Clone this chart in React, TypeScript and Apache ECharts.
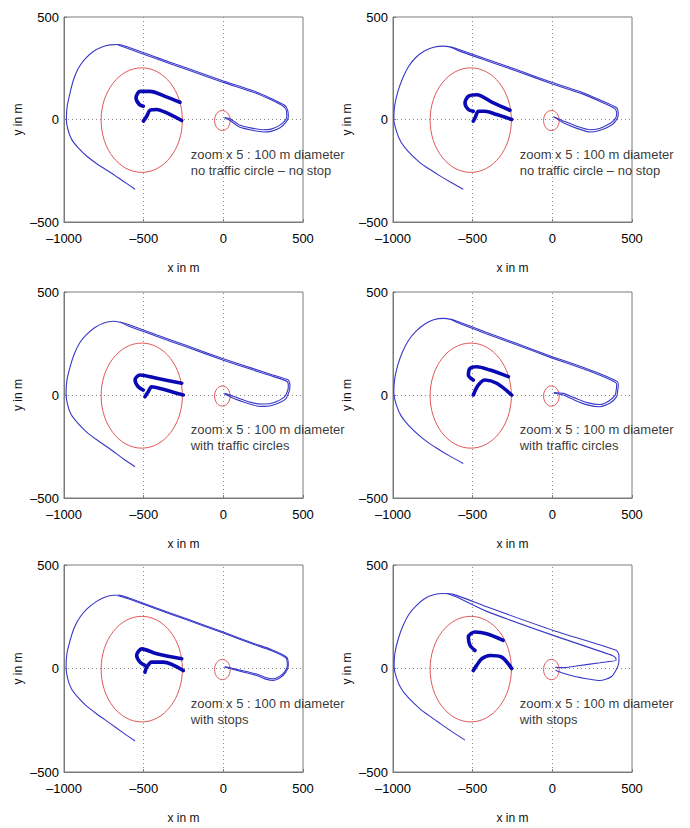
import React, { useEffect, useRef } from "react";
import * as echarts from "echarts";

// ---------- data ----------
const X_TICKS = [-1000, -500, 0, 500];
const Y_TICKS = [-500, 0, 500];
const GRID_X = [-500, 0];
const GRID_Y = [0];
const X_LABEL = "x in m";
const Y_LABEL = "y in m";
const NOTE_LINE1 = "zoom x 5 : 100 m diameter";
const NOTE_LINE2 = [
  "no traffic circle – no stop",
  "no traffic circle – no stop",
  "with traffic circles",
  "with traffic circles",
  "with stops",
  "with stops",
];
const NOTE_POS = [-205, -208];

// circles: [cx, cy, r] (the zoom circle is the traffic circle x 5)
const SMALL_CIRCLE = [-6, -5, 49];
const BIG_CIRCLE = [-512, -3, 255];

// panel 1
const outer1A = [[-554,-340],[-630,-300],[-711,-257],[-790,-218],[-858,-178],[-912,-137],[-952,-97],[-975,-50],[-985,0],[-980,65],[-962,130],[-940,195],[-910,250],[-866,297],[-816,332],[-762,354],[-711,364],[-660,366],[-607,356],[-420,303],[-230,251],[0,188],[188,140],[300,103],[387,68],[405,42],[408,12],[392,-14],[356,-40],[300,-58],[251,-61],[180,-52],[105,-38],[42,-5],[8,8]];
const outer1B = [[-660,364],[-607,349],[-420,296],[-230,244],[0,181],[188,133],[300,96],[380,62],[397,40],[398,14],[384,-8],[350,-30],[300,-47],[251,-50],[180,-42],[105,-28],[42,4],[8,10]];
const inner1Top = [[-272,84],[-366,113],[-460,137],[-523,137],[-548,105],[-527,73],[-502,65]];
const inner1Bottom = [[-261,-5],[-355,32],[-418,49],[-460,45],[-481,16],[-502,-8]];

// panel 2
const outer2A = [[-559,-340],[-640,-305],[-705,-275],[-770,-243],[-831,-210],[-905,-155],[-950,-110],[-977,-60],[-995,0],[-990,65],[-970,135],[-940,200],[-905,255],[-860,300],[-806,333],[-745,352],[-684,358],[-630,352],[-590,343],[-420,296],[-230,245],[0,180],[188,132],[300,95],[404,57],[414,30],[408,5],[380,-22],[341,-40],[290,-55],[236,-61],[150,-42],[69,-16],[6,14]];
const outer2B = [[-640,355],[-590,336],[-420,289],[-230,238],[0,173],[188,125],[300,88],[394,52],[404,30],[398,8],[372,-14],[335,-30],[290,-45],[236,-50],[150,-32],[69,-7],[10,12]];
const inner2Top = [[-266,45],[-370,81],[-475,121],[-527,113],[-548,81],[-527,49],[-496,40]];
const inner2Bottom = [[-255,0],[-349,24],[-423,40],[-464,40],[-485,8],[-496,-8]];

// panel 3
const outer3A = [[-554,-348],[-630,-308],[-711,-262],[-790,-220],[-858,-180],[-912,-138],[-955,-95],[-978,-45],[-987,5],[-982,70],[-962,135],[-935,200],[-900,255],[-856,295],[-806,328],[-750,350],[-690,358],[-640,352],[-600,343],[-420,292],[-230,240],[0,176],[188,128],[300,100],[408,73],[418,45],[414,20],[390,-20],[314,-49],[260,-55],[209,-53],[130,-35],[63,-16],[6,6]];
const outer3B = [[-650,355],[-600,336],[-420,285],[-230,233],[0,169],[188,121],[300,93],[400,66],[408,44],[404,22],[382,-10],[314,-38],[260,-44],[209,-42],[130,-25],[63,-6],[8,8]];
const inner3Top = [[-261,57],[-418,81],[-523,97],[-554,73],[-534,40],[-502,24]];
const inner3Bottom = [[-251,0],[-397,32],[-450,40],[-471,16],[-492,-8]];

// panel 4
const outer4A = [[-559,-332],[-640,-298],[-705,-268],[-770,-236],[-831,-200],[-905,-145],[-950,-100],[-978,-50],[-995,10],[-990,75],[-970,145],[-940,210],[-900,268],[-852,312],[-800,345],[-745,365],[-684,372],[-630,366],[-590,356],[-420,306],[-230,252],[0,186],[188,136],[300,103],[408,65],[414,49],[410,20],[404,-8],[360,-40],[299,-57],[220,-48],[140,-25],[69,0],[8,10]];
const outer4B = [[-640,369],[-590,349],[-420,299],[-230,245],[0,179],[188,129],[300,96],[398,60],[404,46],[400,20],[394,-2],[352,-30],[299,-46],[220,-37],[140,-14],[69,8],[10,12]];
const inner4Top = [[-276,89],[-391,121],[-475,137],[-517,129],[-527,97],[-496,73]];
const inner4Bottom = [[-255,0],[-349,57],[-423,73],[-464,49],[-496,0]];

// panel 5
const outer5A = [[-554,-350],[-630,-310],[-711,-265],[-790,-222],[-858,-182],[-912,-140],[-955,-95],[-978,-45],[-987,5],[-982,70],[-962,135],[-935,198],[-898,250],[-852,290],[-800,322],[-745,344],[-690,354],[-649,354],[-600,343],[-420,292],[-230,240],[0,176],[188,122],[300,92],[398,55],[408,15],[390,-20],[356,-45],[314,-58],[260,-50],[209,-34],[130,-18],[42,0],[8,6]];
const outer5B = [[-660,352],[-600,338],[-420,287],[-230,235],[0,171],[188,117],[300,87],[392,52],[402,15],[385,-16],[352,-38],[314,-50],[260,-42],[209,-27],[130,-12],[42,4],[8,8]];
const inner5Top = [[-261,47],[-418,71],[-512,95],[-544,63],[-523,31],[-492,15]];
const inner5Bottom = [[-251,-10],[-377,31],[-450,31],[-481,6],[-492,-18]];

// panel 6
const outer6A = [[-548,-346],[-630,-305],[-705,-265],[-770,-230],[-831,-195],[-905,-140],[-950,-95],[-978,-45],[-993,10],[-988,75],[-968,140],[-938,205],[-900,262],[-852,305],[-800,338],[-745,356],[-684,362],[-620,358],[-412,298],[6,184],[400,88],[418,66],[418,35],[408,5],[370,-40],[299,-58],[150,-40],[69,-23],[20,-8]];
const outer6B = [[-660,362],[-600,345],[-412,276],[6,160],[380,62],[398,50],[400,40],[300,28],[150,12],[69,4],[17,6]];
const inner6Top = [[-308,136],[-412,168],[-485,176],[-527,152],[-517,112],[-485,87]];
const inner6Bottom = [[-255,0],[-318,55],[-391,63],[-443,47],[-475,15],[-496,-10]];

const OUTER_A = [outer1A, outer2A, outer3A, outer4A, outer5A, outer6A];
const OUTER_B = [outer1B, outer2B, outer3B, outer4B, outer5B, outer6B];
const INNER_TOP = [inner1Top, inner2Top, inner3Top, inner4Top, inner5Top, inner6Top];
const INNER_BOTTOM = [inner1Bottom, inner2Bottom, inner3Bottom, inner4Bottom, inner5Bottom, inner6Bottom];

// ---------- layout ----------
const GRIDS = [
  { left: 64, top: 17, width: 239, height: 205 },
  { left: 393, top: 17, width: 239, height: 205 },
  { left: 64, top: 292, width: 239, height: 206 },
  { left: 393, top: 292, width: 239, height: 206 },
  { left: 64, top: 565, width: 239, height: 207 },
  { left: 393, top: 565, width: 239, height: 207 },
];

const FONT = '"Liberation Sans", Arial, Helvetica, sans-serif';
const THIN_BLUE = "#3838c8";
const THICK_BLUE = "#0a0ab4";
const RED = "#e05858";
const FRAME = "#7a7a7a";

const fmt = (v: number) => (v < 0 ? "\u2013" + Math.abs(v) : String(v));

function buildOption() {
  const grid: any[] = [];
  const xAxis: any[] = [];
  const yAxis: any[] = [];
  const series: any[] = [];
  GRIDS.forEach((g, i) => {
    grid.push({ ...g, show: true, borderColor: FRAME, borderWidth: 1, backgroundColor: "#fff" });
    xAxis.push({
      type: "value",
      gridIndex: i,
      min: X_TICKS[0],
      max: X_TICKS[X_TICKS.length - 1],
      interval: 500,
      name: X_LABEL,
      nameLocation: "middle",
      nameGap: 40,
      nameTextStyle: { fontFamily: FONT, fontSize: 12, color: "#111" },
      axisLine: { show: true, onZero: false, lineStyle: { color: FRAME } },
      axisTick: { show: true, inside: true, length: 3, lineStyle: { color: FRAME } },
      axisLabel: { fontFamily: FONT, fontSize: 13, color: "#000", margin: 10, formatter: fmt },
      splitLine: { show: false },
    });
    yAxis.push({
      type: "value",
      gridIndex: i,
      min: Y_TICKS[0],
      max: Y_TICKS[Y_TICKS.length - 1],
      interval: 500,
      name: Y_LABEL,
      nameLocation: "middle",
      nameGap: 40,
      nameRotate: 90,
      nameTextStyle: { fontFamily: FONT, fontSize: 12, color: "#111" },
      axisLine: { show: true, onZero: false, lineStyle: { color: FRAME } },
      axisTick: { show: true, inside: true, length: 3, lineStyle: { color: FRAME } },
      axisLabel: { fontFamily: FONT, fontSize: 13, color: "#000", margin: 5, formatter: fmt },
      splitLine: { show: false },
    });
    const lineBase = { type: "line", xAxisIndex: i, yAxisIndex: i, symbol: "none", showSymbol: false, silent: true, z: 3 };
    series.push({
      ...lineBase,
      data: OUTER_A[i],
      smooth: 0.2,
      lineStyle: { color: THIN_BLUE, width: 1.1 },
      markLine: {
        silent: true,
        symbol: ["none", "none"],
        label: { show: false },
        lineStyle: { type: [1, 3], color: "#8a8a8a", width: 1 },
        data: [...GRID_X.map((v) => ({ xAxis: v })), ...GRID_Y.map((v) => ({ yAxis: v }))],
        z: 1,
      },
    });
    series.push({ ...lineBase, data: OUTER_B[i], smooth: 0.2, lineStyle: { color: THIN_BLUE, width: 1.1 } });
    series.push({ ...lineBase, data: INNER_TOP[i], smooth: 0.3, lineStyle: { color: THICK_BLUE, width: 3.6, cap: "round", join: "round" }, z: 4 });
    series.push({ ...lineBase, data: INNER_BOTTOM[i], smooth: 0.3, lineStyle: { color: THICK_BLUE, width: 3.6, cap: "round", join: "round" }, z: 4 });
    series.push({
      type: "custom",
      xAxisIndex: i,
      yAxisIndex: i,
      silent: true,
      z: 2,
      data: [SMALL_CIRCLE, BIG_CIRCLE],
      encode: { x: 0, y: 1 },
      renderItem: (params: any, api: any) => {
        const c = api.coord([api.value(0), api.value(1)]);
        const s = api.size([api.value(2), api.value(2)]);
        return {
          type: "ellipse",
          shape: { cx: c[0], cy: c[1], rx: s[0], ry: s[1] },
          style: { fill: "none", stroke: RED, lineWidth: 1 },
        };
      },
    });
    series.push({
      type: "scatter",
      xAxisIndex: i,
      yAxisIndex: i,
      symbolSize: 0,
      silent: true,
      z: 10,
      data: [[NOTE_POS[0], NOTE_POS[1]]],
      label: {
        show: true,
        position: [0, 0],
        align: "left",
        verticalAlign: "middle",
        fontFamily: FONT,
        fontSize: 13,
        lineHeight: 16,
        color: "#000",
        formatter: NOTE_LINE1 + "\n" + NOTE_LINE2[i],
      },
    });
  });
  return { animation: false, backgroundColor: "#fff", grid, xAxis, yAxis, series };
}

export default function App() {
  const ref = useRef<HTMLDivElement>(null);
  useEffect(() => {
    if (!ref.current) return;
    const chart = echarts.init(ref.current, null, { renderer: "svg" });
    chart.setOption(buildOption() as any);
    return () => chart.dispose();
  }, []);
  return (
    <div
      ref={ref}
      style={{ position: "fixed", left: 0, top: 0, width: 690, height: 828, background: "#fff" }}
    />
  );
}
